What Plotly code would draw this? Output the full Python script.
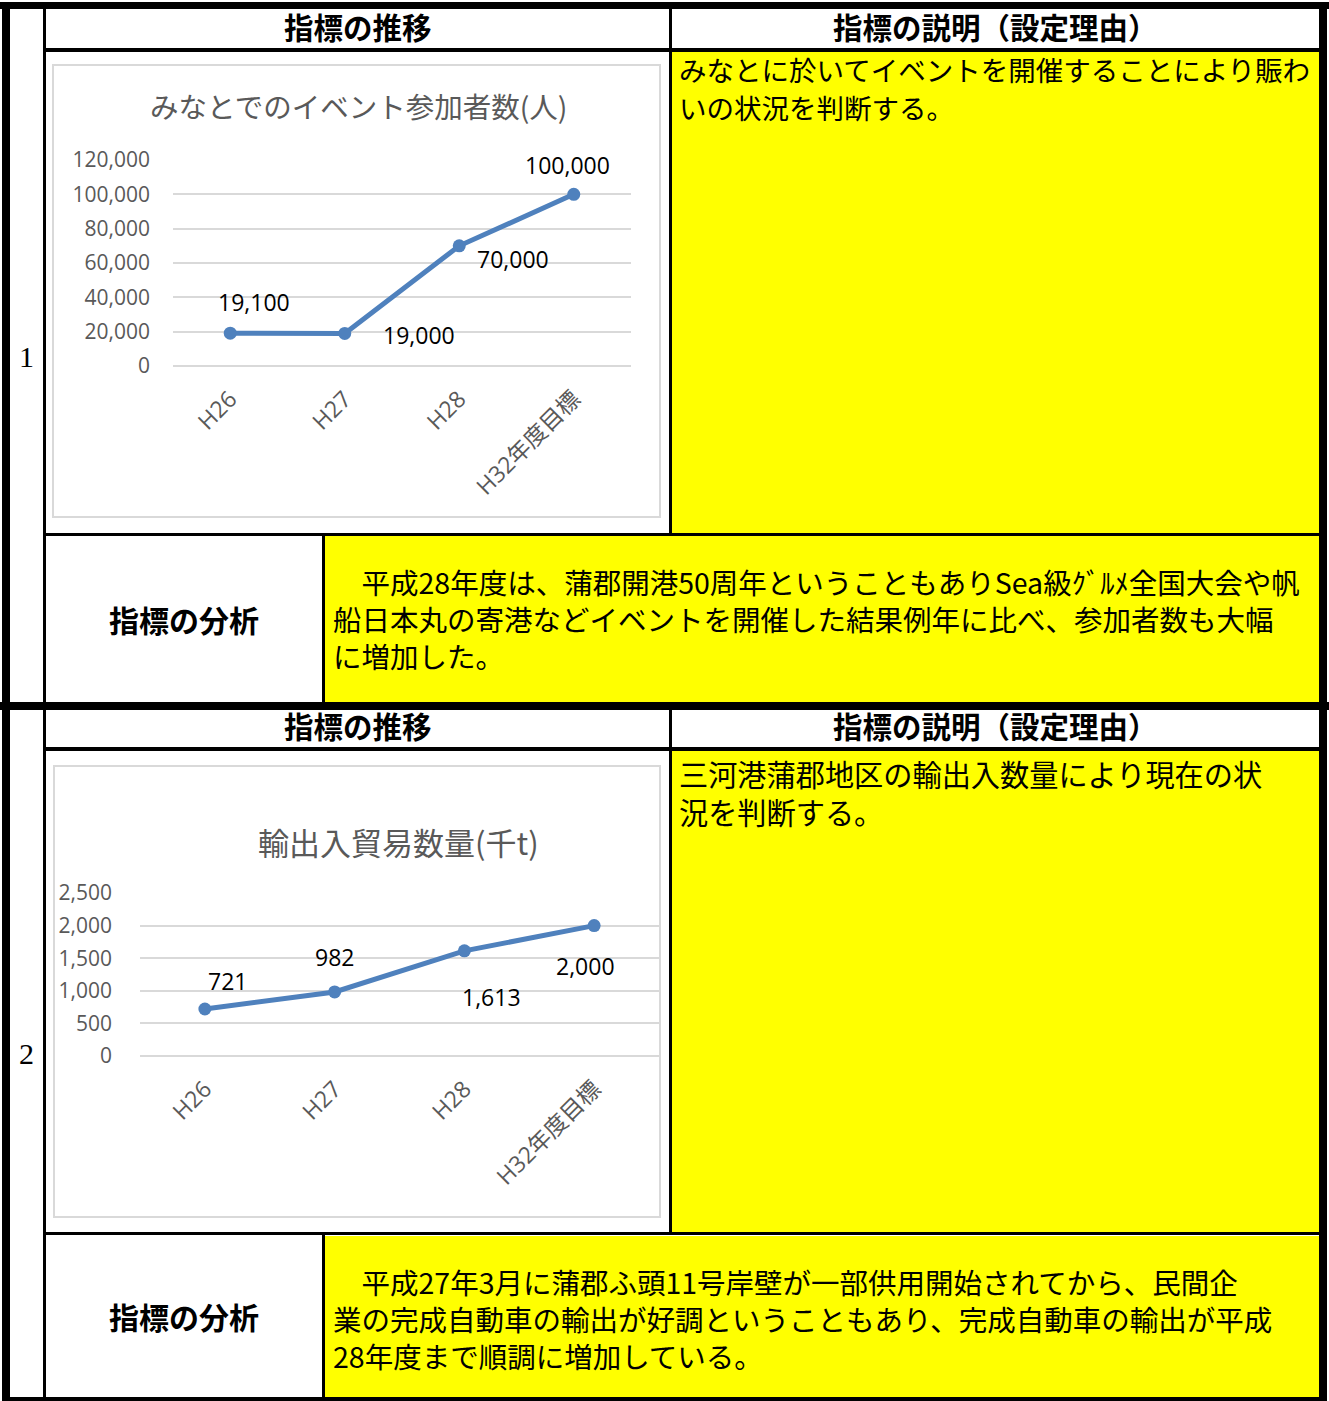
import plotly.graph_objects as go

# ---------------- data ----------------
categories = ["H26", "H27", "H28", "H32年度目標"]

events_title = "みなとでのイベント参加者数(人)"
events_values = [19100, 19000, 70000, 100000]
events_labels = ["19,100", "19,000", "70,000", "100,000"]
events_ticks = [0, 20000, 40000, 60000, 80000, 100000, 120000]

trade_title = "輸出入貿易数量(千t)"
trade_values = [721, 982, 1613, 2000]
trade_labels = ["721", "982", "1,613", "2,000"]
trade_ticks = [0, 500, 1000, 1500, 2000, 2500]

row_numbers = ["1", "2"]
header_left = "指標の推移"
header_right = "指標の説明（設定理由）"
analysis_head = "指標の分析"

desc1_lines = ["みなとに於いてイベントを開催することにより賑わ", "いの状況を判断する。"]
analysis1_lines = [
    "　平成28年度は、蒲郡開港50周年ということもありSea級ｸﾞﾙﾒ全国大会や帆",
    "船日本丸の寄港などイベントを開催した結果例年に比べ、参加者数も大幅",
    "に増加した。",
]
desc2_lines = ["三河港蒲郡地区の輸出入数量により現在の状", "況を判断する。"]
analysis2_lines = [
    "　平成27年3月に蒲郡ふ頭11号岸壁が一部供用開始されてから、民間企",
    "業の完成自動車の輸出が好調ということもあり、完成自動車の輸出が平成",
    "28年度まで順調に増加している。",
]

# ---------------- layout helpers ----------------
W, H = 1329, 1401
def px(x):
    return x / W
def py(y):
    return 1 - y / H

JP = "Noto Sans CJK JP"
LAT = "Open Sans"
BLUE = "#4F81BD"
GRID = "#d9d9d9"
TICK = "#595959"
YELLOW = "#ffff00"

shapes = []
def rect(x0, y0, x1, y1, fill, line_color=None, line_width=0):
    shapes.append(dict(type="rect", xref="paper", yref="paper",
                       x0=px(x0), x1=px(x1), y0=py(y1), y1=py(y0),
                       fillcolor=fill,
                       line=dict(color=line_color or fill, width=line_width),
                       layer="below"))

# yellow cells
rect(672, 52, 1319, 533, YELLOW)
rect(325, 536, 1319, 702, YELLOW)
rect(672, 751, 1319, 1233, YELLOW)
rect(325, 1236, 1319, 1397, YELLOW)

# chart frames
shapes.append(dict(type="rect", xref="paper", yref="paper", x0=px(53), x1=px(660),
                   y0=py(517), y1=py(65), line=dict(color=GRID, width=2), layer="below"))
shapes.append(dict(type="rect", xref="paper", yref="paper", x0=px(54), x1=px(660),
                   y0=py(1217), y1=py(766), line=dict(color=GRID, width=2), layer="below"))

# black borders
K = "black"
rect(0, 2, 1329, 9, K)          # top
rect(2, 2, 10, 1401, K)         # left
rect(1319, 2, 1327, 1401, K)    # right
rect(2, 1397, 1327, 1401, K)    # bottom
rect(0, 702, 1329, 710, K)      # block separator
rect(43, 9, 46, 1397, K)        # number column
for top in (0, 699):
    rect(46, 48 + top, 1319, 52 + top, K)      # header bottom
    rect(669, 9 + top, 672, 533 + top, K)      # chart / description divider
    rect(46, 533 + top, 1319, 536 + top, K)    # chart row bottom
    rect(322, 536 + top, 325, 702 + top - (2 if top else 0), K)  # analysis label divider

annotations = []
def text(x, y, s, size, color="black", family=JP, xanchor="center", bold=False,
         yanchor="middle"):
    annotations.append(dict(xref="paper", yref="paper", x=px(x), y=py(y),
                            text=f"<b>{s}</b>" if bold else s, showarrow=False,
                            xanchor=xanchor, yanchor=yanchor, align="left",
                            font=dict(size=size, color=color, family=family)))

# numbers
text(26, 356, row_numbers[0], 30, family="Liberation Serif")
text(26, 1053, row_numbers[1], 30, family="Liberation Serif")

# headers
for top in (0, 699):
    text(358, 26 + top, header_left, 29.5, bold=True)
    text(996, 26 + top, header_right, 29.5, bold=True)
    text(184, 619 + top - (2 if top else 0), analysis_head, 30, bold=True)

# descriptions / analyses
for i, line in enumerate(desc1_lines):
    text(677, 69 + 38 * i, line, 27.5, xanchor="left")
text(677, 750, "<br>".join(desc2_lines), 29.2, xanchor="left", yanchor="top")
text(331, 619, "<br>".join(analysis1_lines), 28.5, xanchor="left")
text(331, 1318, "<br>".join(analysis2_lines), 28.5, xanchor="left")

# chart titles
text(358, 105, events_title, 28.5, color=TICK)
text(398, 842, trade_title, 31, color=TICK)

# data labels (pixel offsets from each point)
events_offsets = [(24, 31), (74, -2), (54, -13), (-6, 29)]
trade_offsets = [(23, 28), (0, 35), (27, -46), (-9, -40)]
for c, v, lab, (dx, dy) in zip(categories, events_values, events_labels, events_offsets):
    annotations.append(dict(xref="x", yref="y", x=c, y=v, text=lab, showarrow=False,
                            xshift=dx, yshift=dy, font=dict(size=23, color="black", family=LAT)))
for c, v, lab, (dx, dy) in zip(categories, trade_values, trade_labels, trade_offsets):
    annotations.append(dict(xref="x2", yref="y2", x=c, y=v, text=lab, showarrow=False,
                            xshift=dx, yshift=dy, font=dict(size=23, color="black", family=LAT)))

fig = go.Figure()
fig.add_trace(go.Scatter(x=categories, y=events_values, mode="lines+markers",
                         line=dict(color=BLUE, width=5), marker=dict(size=13, color=BLUE),
                         xaxis="x", yaxis="y", hoverinfo="skip", showlegend=False))
fig.add_trace(go.Scatter(x=categories, y=trade_values, mode="lines+markers",
                         line=dict(color=BLUE, width=5), marker=dict(size=13, color=BLUE),
                         xaxis="x2", yaxis="y2", hoverinfo="skip", showlegend=False))

xcommon = dict(type="category", range=[-0.5, 3.5], showgrid=False, zeroline=False,
               showline=False, tickangle=-45, ticks="", ticklabelstandoff=14,
               automargin=False,
               tickfont=dict(size=23, color=TICK, family=LAT + ", " + JP), fixedrange=True)
ycommon = dict(showgrid=True, gridcolor=GRID, gridwidth=2, zeroline=True,
               zerolinecolor=GRID, zerolinewidth=2, showline=False, ticks="",
               tickformat=",", tickfont=dict(size=21, color=TICK, family=LAT),
               automargin=False, fixedrange=True)

fig.update_layout(
    width=W, height=H, margin=dict(l=0, r=0, t=0, b=0, pad=0, autoexpand=False),
    paper_bgcolor="white", plot_bgcolor="rgba(0,0,0,0)",
    showlegend=False,
    xaxis=dict(domain=[px(173), px(631)], anchor="y", **xcommon),
    yaxis=dict(domain=[py(366), py(160)], anchor="x", range=[0, 120000],
               tickvals=events_ticks, ticklabelstandoff=22, **ycommon),
    xaxis2=dict(domain=[px(140), px(659)], anchor="y2", **xcommon),
    yaxis2=dict(domain=[py(1056), py(893)], anchor="x2", range=[0, 2500],
                tickvals=trade_ticks, ticklabelstandoff=27, **ycommon),
    shapes=shapes,
    annotations=annotations,
)

fig.write_html("out.html", config={"displayModeBar": False},
               post_script="document.body.style.margin='0px';document.body.style.overflow='hidden';")
